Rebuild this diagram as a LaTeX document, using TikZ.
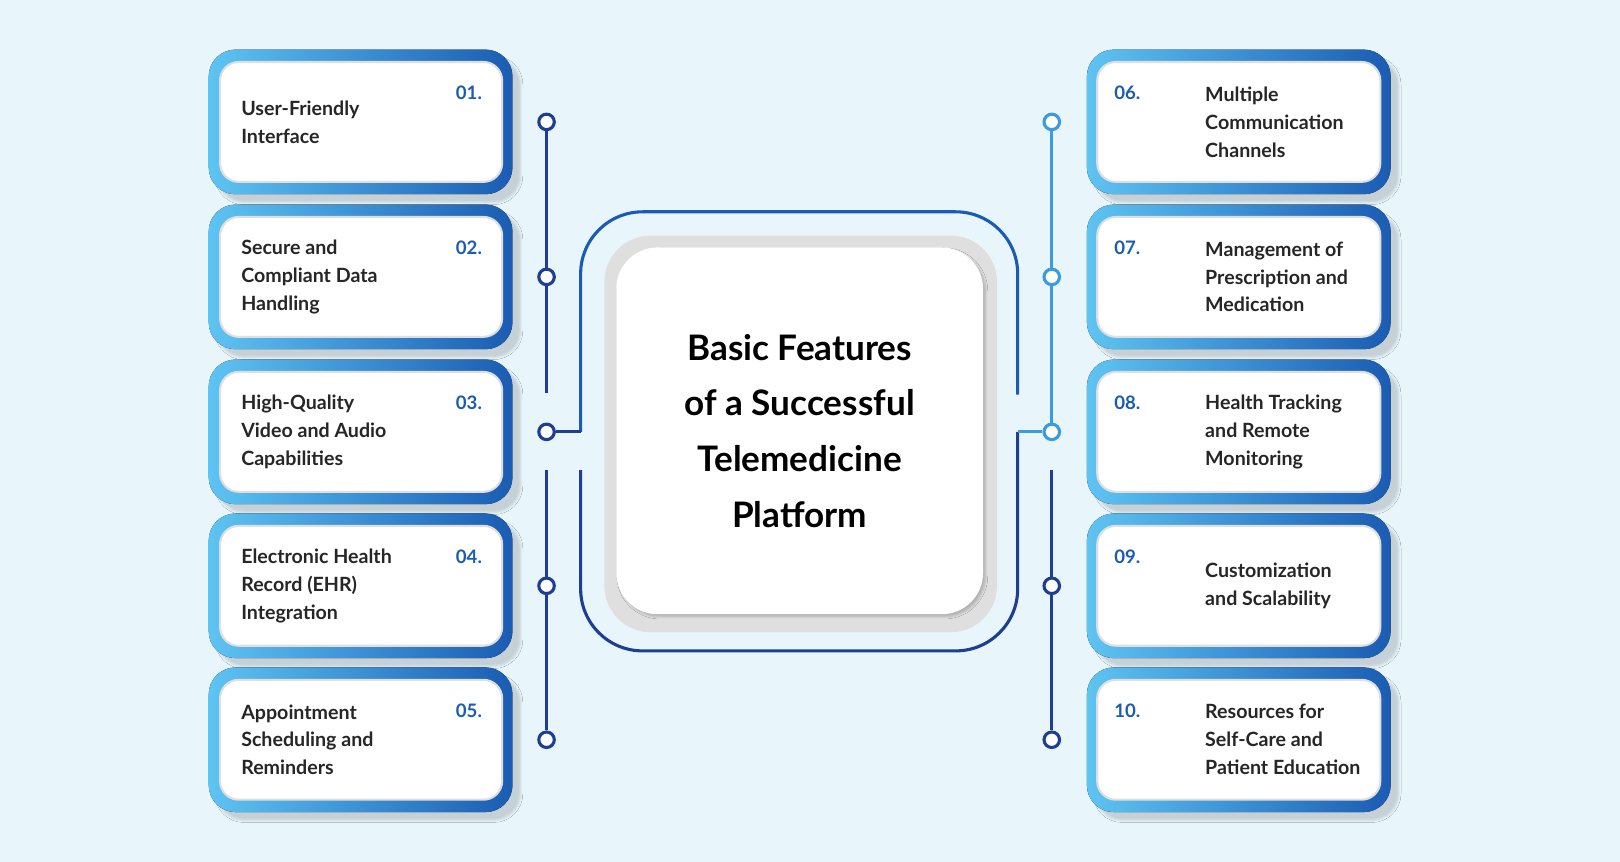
\documentclass[tikz,border=0pt]{standalone}
\usepackage{fontspec}
\setmainfont{Lato}
\usetikzlibrary{shadows.blur}
\definecolor{lb}{HTML}{5EC4F2}
\definecolor{db}{HTML}{1A5CB3}
\definecolor{nb}{HTML}{1E3E94}
\definecolor{bg}{HTML}{E8F6FC}
\definecolor{mb}{HTML}{3A9BE0}
\begin{document}
\begin{tikzpicture}[x=1pt,y=-1pt,
 outer/.style={rounded corners=26pt,left color=lb,right color=db,blur shadow={shadow xshift=8pt,shadow yshift=-8pt,shadow opacity=15}},
 inner/.style={rounded corners=18pt,fill=white,draw=gray!25,line width=2pt},
 txt/.style={font=\fontsize{19}{27}\selectfont\bfseries,align=left,anchor=west,text=black!85},
 num/.style={font=\fontsize{18}{20}\selectfont\bfseries,text=db},
 dot/.style={circle,draw=nb,line width=3pt,fill=white,minimum size=15pt,inner sep=0},
 ln/.style={line width=3pt,draw=nb}]
\fill[bg] (0,0) rectangle (1568,834);
\useasboundingbox (0,0) rectangle (1568,834);
% center frame
\draw[line width=3pt,draw=db,rounded corners=60pt] (562,418) -- (562,205) -- (985,205) -- (985,382);
\draw[line width=3pt,draw=nb,rounded corners=60pt] (562,455) -- (562,630) -- (985,630) -- (985,418);
\fill[gray!25,rounded corners=45pt] (585,228) rectangle (965,612);
\node[fill=white,rounded corners=40pt,minimum width=355pt,minimum height=355pt,blur shadow={shadow opacity=20}] (c) at (774,417) {};
\node[font=\fontsize{34}{54}\selectfont\bfseries,align=center] at (774,417) {Basic Features\\of a Successful\\Telemedicine\\Platform};
% timelines
\foreach \i/\y in {1/118,2/268,3/418,4/567,5/716}{\node[dot] (L\i) at (529,\y) {};}
\foreach \i/\y in {1/118,2/268,3/418}{\node[dot,draw=mb] (R\i) at (1018,\y) {};}
\foreach \i/\y in {4/567,5/716}{\node[dot] (R\i) at (1018,\y) {};}
\coordinate (la) at (529,380); \coordinate (lb2) at (529,455);
\coordinate (ra) at (1018,455);
\draw[ln] (L1) -- (L2); \draw[ln] (L2) -- (la); \draw[ln] (lb2) -- (L4); \draw[ln] (L4) -- (L5);
\draw[ln] (L3) -- (562,418);
\draw[ln,draw=mb] (R1) -- (R2); \draw[ln,draw=mb] (R2) -- (R3); \draw[ln] (ra) -- (R4); \draw[ln] (R4) -- (R5);
\draw[ln,draw=mb] (R3) -- (985,418);
% cards
\foreach \i/\y/\n/\t in {1/118/01./{User-Friendly\\Interface},2/268/02./{Secure and\\Compliant Data\\Handling},3/418/03./{High-Quality\\Video and Audio\\Capabilities},4/567/04./{Electronic Health\\Record (EHR)\\Integration},5/716/05./{Appointment\\Scheduling and\\Reminders}}{
 \fill[outer] (202,\y-70) rectangle (496,\y+70);
 \draw[inner] (213,\y-58) rectangle (486,\y+58);
 \node[txt] (lt\i) at (230,\y) {\t};
 \node[num,anchor=east] (ln\i) at (470,\y-28) {\n};
}
\foreach \i/\y/\n/\t in {6/118/06./{Multiple\\Communication\\Channels},7/268/07./{Management of\\Prescription and\\Medication},8/418/08./{Health Tracking\\and Remote\\Monitoring},9/567/09./{Customization\\and Scalability},10/716/10./{Resources for\\Self-Care and\\Patient Education}}{
 \fill[outer] (1052,\y-70) rectangle (1346,\y+70);
 \draw[inner] (1062,\y-58) rectangle (1336,\y+58);
 \node[txt] (rt\i) at (1163,\y) {\t};
 \node[num,anchor=west] (rn\i) at (1075,\y-28) {\n};
}
\end{tikzpicture}
\end{document}
